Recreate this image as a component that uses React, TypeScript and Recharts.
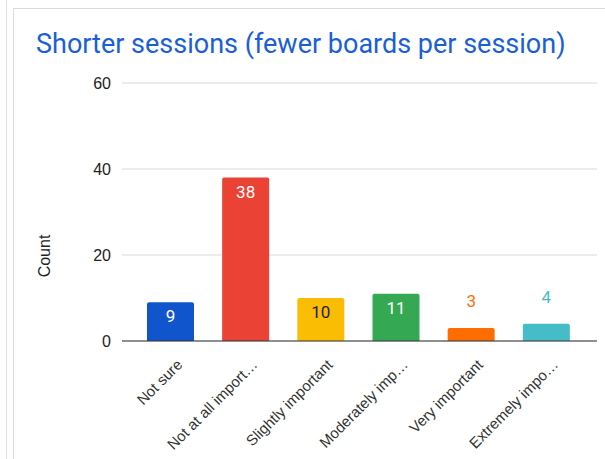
import React from "react";
import { BarChart, Bar, XAxis, YAxis, CartesianGrid, Cell, LabelList } from "recharts";

const categories = [
  "Not sure",
  "Not at all import…",
  "Slightly important",
  "Moderately imp…",
  "Very important",
  "Extremely impo…",
];
const counts = [9, 38, 10, 11, 3, 4];
const barColors = ["#1155cc", "#ea4335", "#fbbc04", "#34a853", "#ff6d01", "#46bdc6"];
const labelColors = ["#ffffff", "#ffffff", "#202124", "#ffffff", "#ff6d01", "#46bdc6"];
const yTicks = [0, 20, 40, 60];

const data = categories.map((name, i) => ({ name, count: counts[i] }));

const FONT = "Roboto, Arial, sans-serif";
const AXIS_FONT = "'Liberation Sans', Arial, sans-serif";

const XTick = (props: any) => {
  const { x, y, payload } = props;
  return (
    <g transform={`translate(${x + 9},${y + 13})`}>
      <text
        x={0}
        y={0}
        dy="0.35em"
        textAnchor="end"
        transform="rotate(-45)"
        fill="#333"
        fontSize={15}
        fontFamily={AXIS_FONT}
      >
        {payload.value}
      </text>
    </g>
  );
};

const ValueLabel = (props: any) => {
  const { x, y, width, height, value, index } = props;
  const outside = height < 20;
  return (
    <text
      x={x + width / 2}
      y={outside ? y - 27 : y + 14}
      dy="0.35em"
      textAnchor="middle"
      fill={labelColors[index]}
      fontSize={17}
      fontFamily={FONT}
    >
      {value}
    </text>
  );
};

const CountLabel = (props: any) => {
  const { viewBox } = props;
  const cx = viewBox.x + 24;
  const cy = viewBox.y + viewBox.height / 2 + 44;
  return (
    <text
      x={cx}
      y={cy}
      textAnchor="middle"
      dominantBaseline="central"
      transform={`rotate(-90, ${cx}, ${cy})`}
      fill="#222"
      fontSize={16}
      fontFamily={AXIS_FONT}
    >
      Count
    </text>
  );
};

export default function App() {
  return (
    <div
      style={{
        position: "fixed",
        left: 0,
        top: 0,
        width: 605,
        height: 459,
        background: "#fff",
        overflow: "hidden",
        fontFamily: FONT,
      }}
    >
      <div style={{ position: "absolute", left: 6, top: 0, width: 1, height: 459, background: "#e3e3e3" }} />
      <div
        style={{
          position: "absolute",
          left: 13,
          top: 8,
          right: 0,
          bottom: 0,
          borderLeft: "1px solid #dadce0",
          borderTop: "1px solid #dadce0",
        }}
      />
      <div
        style={{
          position: "absolute",
          left: 36,
          top: 26,
          fontSize: 27,
          color: "#1a5fd6",
          whiteSpace: "nowrap",
          lineHeight: "36px",
        }}
      >
        Shorter sessions (fewer boards per session)
      </div>
      <div style={{ position: "absolute", left: 0, top: 0 }}>
        <BarChart
          width={605}
          height={459}
          data={data}
          margin={{ top: 83, right: 8, bottom: 0, left: 20 }}
        >
          <CartesianGrid vertical={false} stroke="#d9d9d9" />
          <XAxis
            dataKey="name"
            interval={0}
            height={118}
            padding={{ left: 11, right: 13 }}
            tick={<XTick />}
            tickLine={false}
            axisLine={{ stroke: "#333" }}
          />
          <YAxis
            width={102}
            domain={[0, 60]}
            ticks={yTicks}
            tickLine={false}
            axisLine={false}
            tickMargin={5}
            tick={{ fill: "#222", fontSize: 16, fontFamily: AXIS_FONT }}
            label={<CountLabel />}
          />
          <Bar dataKey="count" barSize={47} radius={[2, 2, 0, 0]} isAnimationActive={false}>
            {data.map((d, i) => (
              <Cell key={d.name} fill={barColors[i]} />
            ))}
            <LabelList dataKey="count" content={<ValueLabel />} />
          </Bar>
        </BarChart>
      </div>
    </div>
  );
}
